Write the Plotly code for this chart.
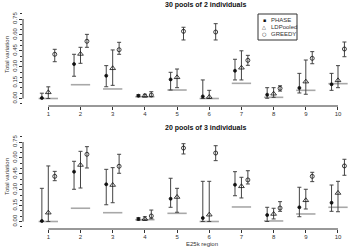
import plotly.graph_objects as go

regions = [1, 2, 3, 4, 5, 6, 7, 8, 9, 10]
methods = ["PHASE", "LDPooled", "GREEDY"]

# Panel 1: 30 pools of 2 individuals
p1_phase = [0.005, 0.325, 0.215, 0.026, 0.18, 0.02, 0.262, 0.036, 0.10, 0.134]
p1_phase_hi = [0.05, 0.417, 0.31, 0.036, 0.247, 0.175, 0.37, 0.102, 0.237, 0.237]
p1_phase_lo = [0.0, 0.21, 0.111, 0.017, 0.08, 0.0, 0.175, 0.002, 0.052, 0.077]
p1_ld = [0.058, 0.42, 0.285, 0.026, 0.20, 0.014, 0.29, 0.045, 0.159, 0.171]
p1_ld_hi = [0.11, 0.483, 0.458, 0.04, 0.278, 0.077, 0.45, 0.102, 0.363, 0.31]
p1_ld_lo = [0.0, 0.332, 0.124, 0.015, 0.102, 0.0, 0.175, 0.011, 0.04, 0.102]
p1_gr = [0.417, 0.54, 0.46, 0.033, 0.634, 0.627, 0.36, 0.096, 0.379, 0.467]
p1_gr_hi = [0.464, 0.605, 0.53, 0.064, 0.672, 0.706, 0.407, 0.12, 0.442, 0.533]
p1_gr_lo = [0.347, 0.483, 0.417, 0.017, 0.552, 0.552, 0.313, 0.07, 0.328, 0.394]
p1_ref = [0.0, 0.13, 0.09, 0.017, 0.08, 0.0, 0.143, 0.011, 0.077, 0.14]

# Panel 2: 20 pools of 3 individuals
p2_phase = [0.005, 0.47, 0.351, 0.024, 0.215, 0.033, 0.347, 0.061, 0.134, 0.177]
p2_phase_hi = [0.313, 0.568, 0.492, 0.036, 0.408, 0.379, 0.47, 0.134, 0.323, 0.344]
p2_phase_lo = [0.0, 0.304, 0.158, 0.011, 0.134, 0.0, 0.243, 0.0, 0.045, 0.096]
p2_ld = [0.083, 0.533, 0.344, 0.024, 0.231, 0.064, 0.332, 0.071, 0.20, 0.269]
p2_ld_hi = [0.524, 0.662, 0.508, 0.045, 0.313, 0.379, 0.417, 0.125, 0.304, 0.379]
p2_ld_lo = [0.0, 0.316, 0.177, 0.011, 0.087, 0.0, 0.222, 0.024, 0.118, 0.092]
p2_gr = [0.426, 0.634, 0.521, 0.052, 0.693, 0.646, 0.392, 0.127, 0.426, 0.524]
p2_gr_hi = [0.473, 0.706, 0.634, 0.108, 0.734, 0.715, 0.479, 0.187, 0.464, 0.587]
p2_gr_lo = [0.385, 0.505, 0.455, 0.026, 0.637, 0.574, 0.354, 0.096, 0.376, 0.436]
p2_ref = [0.0, 0.125, 0.083, 0.017, 0.077, 0.0, 0.137, 0.005, 0.071, 0.134]

y_ticks = [0.0, 0.15, 0.30, 0.45, 0.60, 0.75]
y_ticklabels = ["0.00", "0.15", "0.30", "0.45", "0.60", "0.75"]

FONT = "Liberation Sans, Arial, sans-serif"
W, H = 350, 248

offsets = [-0.2, 0.0, 0.2]
symbols = ["circle", "triangle-up-open", "circle-open"]
msizes = [3, 5, 4]

fig = go.Figure()

panels = [
    ("x", "y", [(p1_phase, p1_phase_hi, p1_phase_lo), (p1_ld, p1_ld_hi, p1_ld_lo), (p1_gr, p1_gr_hi, p1_gr_lo)], p1_ref),
    ("x2", "y2", [(p2_phase, p2_phase_hi, p2_phase_lo), (p2_ld, p2_ld_hi, p2_ld_lo), (p2_gr, p2_gr_hi, p2_gr_lo)], p2_ref),
]

for xa, ya, series, ref in panels:
    lx, ly = [], []
    for r, v in zip(regions, ref):
        lx += [r - 0.3, r + 0.3, None]
        ly += [v, v, None]
    fig.add_trace(go.Scatter(x=lx, y=ly, mode="lines", line=dict(color="#a8a8a8", width=1.6),
                             xaxis=xa, yaxis=ya, showlegend=False, hoverinfo="skip", cliponaxis=False))
    for k, (vals, hi, lo) in enumerate(series):
        fig.add_trace(go.Scatter(
            x=[r + offsets[k] for r in regions], y=vals, mode="markers",
            marker=dict(symbol=symbols[k], size=msizes[k], color="#111111",
                        line=dict(color="#111111", width=0.8)),
            error_y=dict(type="data", symmetric=False,
                         array=[h - v for h, v in zip(hi, vals)],
                         arrayminus=[v - l for v, l in zip(vals, lo)],
                         color="#444444", thickness=1, width=2),
            xaxis=xa, yaxis=ya, showlegend=False, name=methods[k], cliponaxis=False))

xr = [0.214, 10.373]
yr = [-0.0708, 0.816]
xdom = [23 / W, 1.0]
ydom1 = [1 - 106 / H, 1 - 12 / H]
ydom2 = [1 - 229 / H, 1 - 135 / H]

tickfont = dict(family=FONT, size=6, color="#333333")
xax = dict(range=xr, domain=xdom, showgrid=False, zeroline=False, showline=False, automargin=False,
           tickvals=regions, ticktext=[str(r) for r in regions], ticks="outside",
           ticklen=3, tickcolor="#333333", tickfont=tickfont, fixedrange=True, ticklabelstandoff=-1)
yax = dict(range=yr, showgrid=False, zeroline=False, showline=False, automargin=False,
           tickvals=y_ticks, ticktext=y_ticklabels, ticks="outside", ticklen=3,
           tickcolor="#333333", tickangle=-90, tickfont=tickfont,
           minor=dict(dtick=0.05, tick0=0, ticks="outside", ticklen=2, tickcolor="#333333", showgrid=False),
           fixedrange=True)

fig.update_layout(
    width=W, height=H, autosize=False,
    margin=dict(l=0, r=0, t=0, b=0, autoexpand=False),
    paper_bgcolor="white", plot_bgcolor="white",
    showlegend=False,
    xaxis=dict(xax, anchor="y"),
    yaxis=dict(yax, domain=ydom1, anchor="x"),
    xaxis2=dict(xax, anchor="y2"),
    yaxis2=dict(yax, domain=ydom2, anchor="x2"),
    font=dict(family=FONT, size=6, color="#222222"),
)

for xa, ya in [("x", "y"), ("x2", "y2")]:
    fig.add_shape(type="line", xref=xa, yref=ya + " domain", x0=1, x1=10, y0=0, y1=0,
                  line=dict(color="#333333", width=1))
    fig.add_shape(type="line", xref=xa + " domain", yref=ya, x0=0, x1=0, y0=0, y1=0.75,
                  line=dict(color="#333333", width=1))

fig.add_annotation(text="<b>30 pools of 2 individuals</b>", x=205 / W, y=1 - 5 / H, xref="paper", yref="paper",
                   showarrow=False, font=dict(family=FONT, size=7, color="#111111"), xanchor="center", yanchor="middle")
fig.add_annotation(text="<b>20 pools of 3 individuals</b>", x=205 / W, y=1 - 128 / H, xref="paper", yref="paper",
                   showarrow=False, font=dict(family=FONT, size=7, color="#111111"), xanchor="center", yanchor="middle")
for yp in [55, 177]:
    fig.add_annotation(text="Total variation", x=7 / W, y=1 - yp / H, xref="paper", yref="paper",
                       showarrow=False, textangle=-90, font=dict(family=FONT, size=6, color="#333333"),
                       xanchor="center", yanchor="middle")
fig.add_annotation(text="E25k region", x=202 / W, y=1 - 244 / H, xref="paper", yref="paper",
                   showarrow=False, font=dict(family=FONT, size=6, color="#333333"),
                   xanchor="center", yanchor="middle")

fig.add_shape(type="rect", xref="paper", yref="paper", x0=258 / W, x1=297 / W, y0=1 - 40 / H, y1=1 - 14 / H,
              line=dict(color="#333333", width=1), fillcolor="white")
leg_syms = ["\u25aa", "\u25b3", "\u25cb"]
for i, (name, s) in enumerate(zip(methods, leg_syms)):
    yp = 20 + 7 * i
    fig.add_annotation(text=s, x=264 / W, y=1 - yp / H, xref="paper", yref="paper", showarrow=False,
                       font=dict(family="DejaVu Sans", size=5, color="#111111"), xanchor="center", yanchor="middle")
    fig.add_annotation(text=name, x=269 / W, y=1 - yp / H, xref="paper", yref="paper", showarrow=False,
                       font=dict(family=FONT, size=6, color="#333333"), xanchor="left", yanchor="middle")

fig.write_html("out.html", config=dict(displayModeBar=False),
               post_script="document.body.style.margin='0px';document.body.style.overflow='hidden';")
